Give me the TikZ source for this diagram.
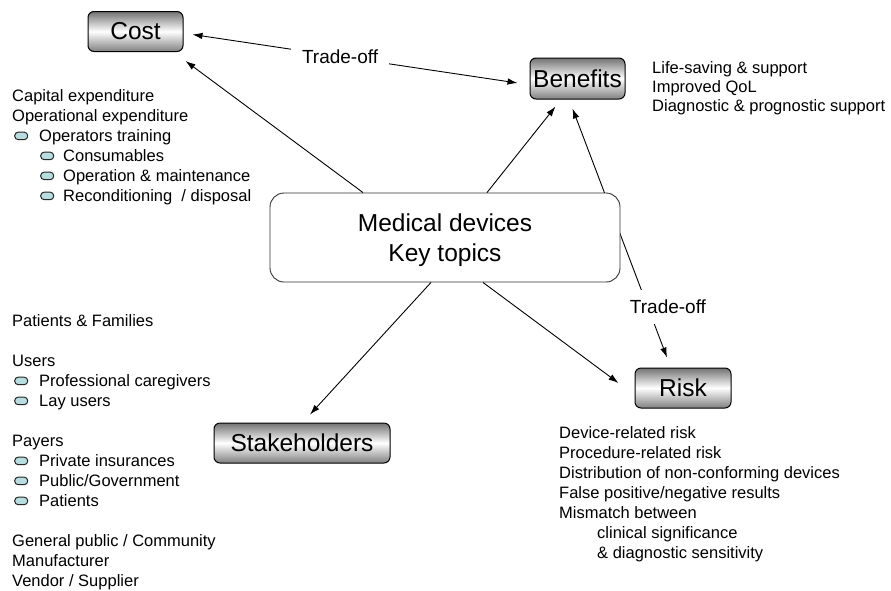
\documentclass[tikz,border=0pt]{standalone}
\usepackage{fontspec}
\setmainfont{Liberation Sans}
\usetikzlibrary{arrows.meta,positioning}
\definecolor{pillcyan}{RGB}{182,222,224}
\newcommand{\pill}{\tikz[baseline=-1.5pt]\draw[fill=pillcyan,draw=black!85,line width=1pt,rounded corners=3.5pt] (0pt,0pt) rectangle (13pt,7.5pt);}

\begin{document}
\begin{tikzpicture}[x=1pt,y=-1pt,
    topic/.style={draw=black,line width=1pt,rounded corners=6pt,top color=black!55,bottom color=black!50,middle color=white,font=\fontsize{24.5}{29}\selectfont,inner sep=0pt,minimum height=40pt},
    core/.style={draw=black!80,line width=0.9pt,rounded corners=14pt,fill=white,minimum width=350pt,minimum height=89pt,align=center,font=\fontsize{24.5}{30}\selectfont},
    notes/.style={align=left,inner sep=0pt,anchor=north west,font=\fontsize{16.5}{20}\selectfont},
    link/.style={-{Latex[length=10pt,width=6.5pt]},line width=0.9pt},
    both/.style={{Latex[length=10pt,width=6.5pt]}-{Latex[length=10pt,width=6.5pt]},line width=0.9pt},
    descr/.style={fill=white,font=\fontsize{19}{22}\selectfont}]
    \useasboundingbox (0,0) rectangle (891,590);

    % the four topics
    \node[topic,minimum width=95pt] (cost) at (135.5,31.5) {Cost};
    \node[topic,minimum width=95pt,minimum height=41pt] (benefits) at (577.5,78.5) {Benefits};
    \node[topic,minimum width=96pt] (risk) at (683,388) {Risk};
    \node[topic,minimum width=176pt] (stake) at (302,443) {Stakeholders};

    % trade-off behind the centre box
    \draw[both] ([shift={(-5,9)}]benefits.south) -- ([shift={(-16,-10)}]risk.north);
    \node[descr,inner xsep=2pt,inner ysep=10pt] (tradeB) at (668,307) {Trade-off};

    \node[core] (main) at (445,237.5) {\rule{0pt}{24pt}Medical devices\\Key topics};

    \draw[both] ([shift={(9,3)}]cost.east) -- node[descr,pos=0.454,inner xsep=11pt,inner ysep=3pt] (tradeA) {Trade-off} ([shift={(-12,4.5)}]benefits.west);

    \draw[link] ([xshift=-82pt]main.north) -- ([shift={(2,9)}]cost.south east);
    \draw[link] ([xshift=42pt]main.north) -- ([shift={(-22,7)}]benefits.south);
    \draw[link] ([xshift=-14pt]main.south) -- ([shift={(8,-8)}]stake.north);
    \draw[link] ([xshift=38pt]main.south) -- ([shift={(-16,-5)}]risk.west);

    % lists
    \node[notes] (costlist) at (12,89) {Capital expenditure\\
        Operational expenditure\\
        \hspace*{2pt}\pill\hspace{11pt}Operators training\\
        \hspace*{28pt}\pill\hspace{9pt}Consumables\\
        \hspace*{28pt}\pill\hspace{9pt}Operation \& maintenance\\
        \hspace*{28pt}\pill\hspace{9pt}Reconditioning~ / disposal};
    \node[notes,font=\fontsize{16.5}{19}\selectfont] (benlist) at (652,61) {Life-saving \& support\\
        Improved QoL\\
        Diagnostic \& prognostic support};
    \node[notes] (stakelist) at (12,314) {Patients \& Families\\[20pt]
        Users\\
        \hspace*{2pt}\pill\hspace{11pt}Professional caregivers\\
        \hspace*{2pt}\pill\hspace{11pt}Lay users\\[20pt]
        Payers\\
        \hspace*{2pt}\pill\hspace{11pt}Private insurances\\
        \hspace*{2pt}\pill\hspace{11pt}Public/Government\\
        \hspace*{2pt}\pill\hspace{11pt}Patients\\[20pt]
        General public / Community\\
        Manufacturer\\
        Vendor / Supplier};
    \node[notes] (risklist) at (559,426) {Device-related risk\\
        Procedure-related risk\\
        Distribution of non-conforming devices\\
        False positive/negative results\\
        Mismatch between\\
        \hspace*{38pt}clinical significance\\
        \hspace*{38pt}\& diagnostic sensitivity};
\end{tikzpicture}
\end{document}
